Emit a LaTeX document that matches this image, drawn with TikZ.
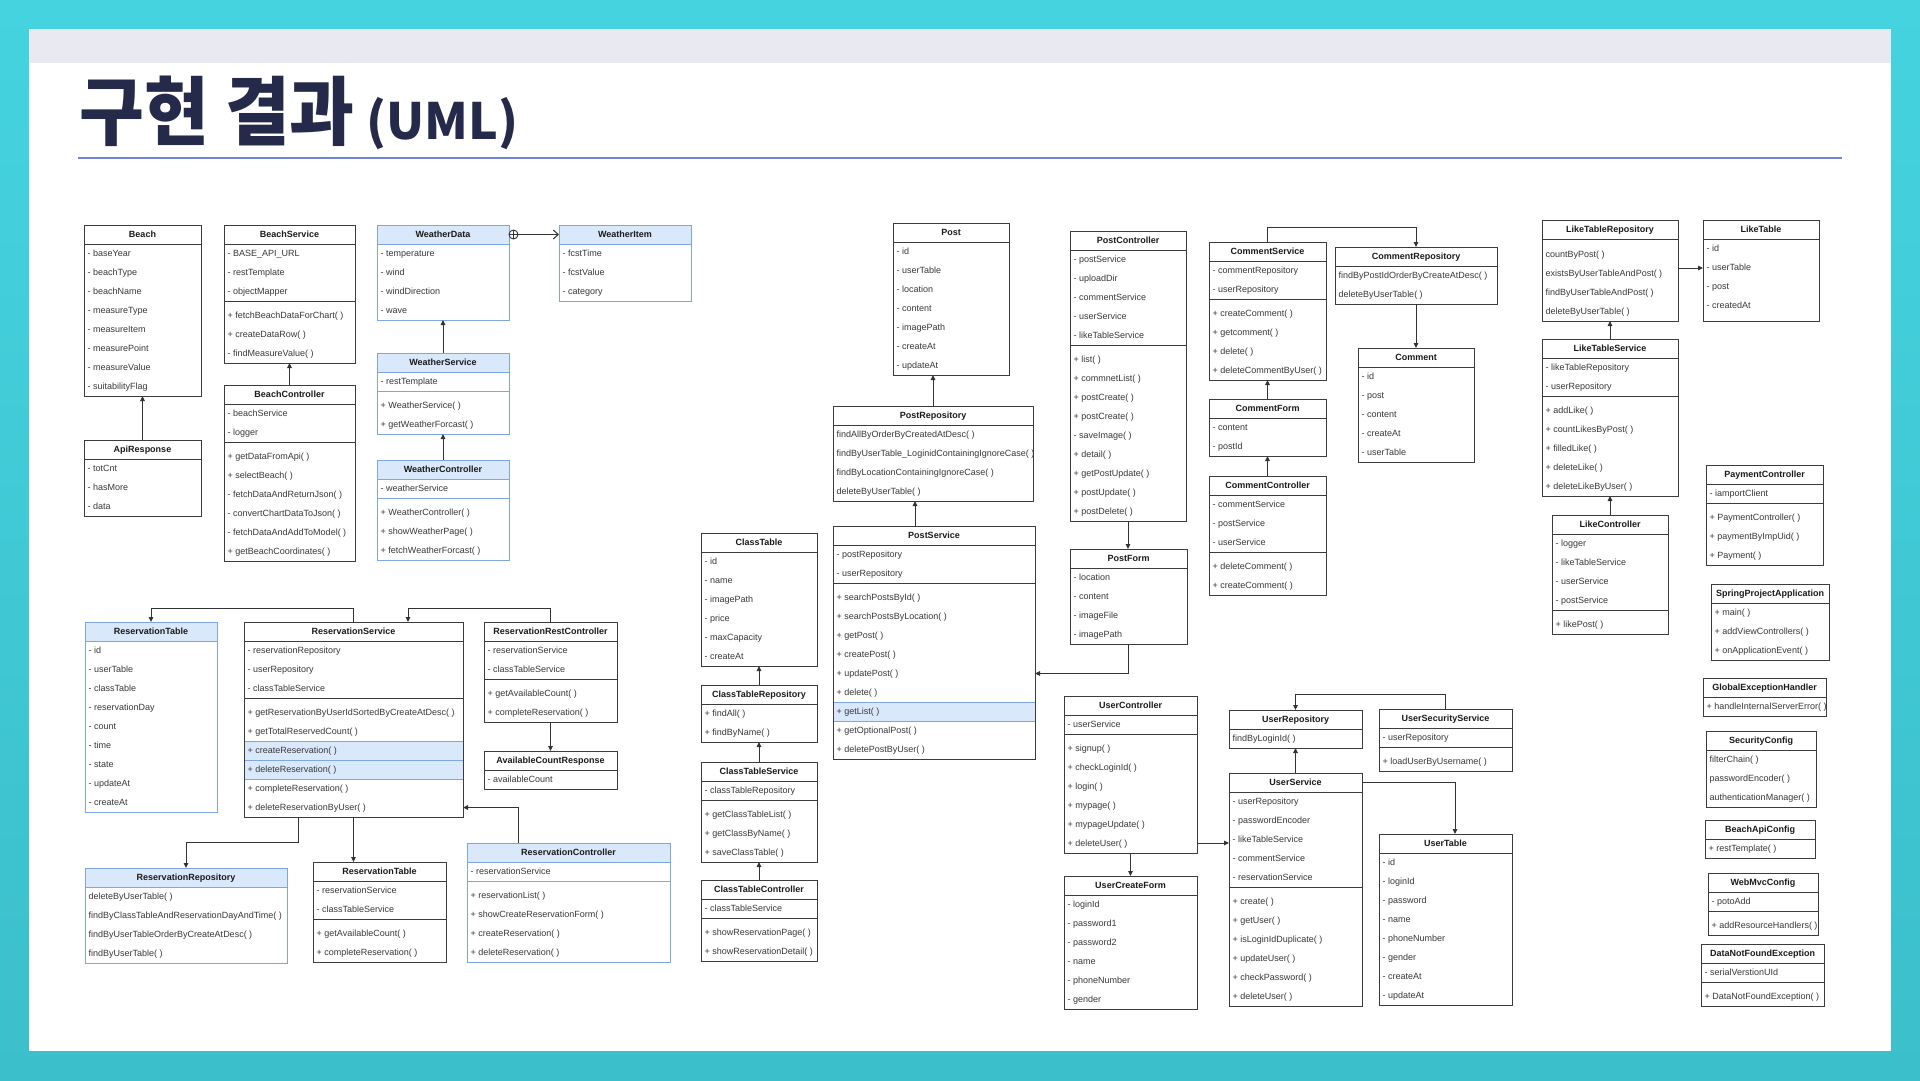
\documentclass[tikz,border=0pt]{standalone}
\usepackage{fontspec}
\usepackage{graphicx}
\setmainfont{Liberation Sans}
\newfontfamily\krfont{Noto Sans CJK KR}
\usetikzlibrary{arrows.meta,calc}
\definecolor{bdcol}{HTML}{3C3C3C}
\definecolor{bluebd}{HTML}{7EA6E0}
\definecolor{bluefill}{HTML}{DAE8FC}
\definecolor{rowcol}{HTML}{383838}
\definecolor{titcol}{HTML}{1A1A1A}
\definecolor{conncol}{HTML}{333333}
\definecolor{navy}{HTML}{252A4A}
\definecolor{rulecol}{HTML}{6F84D6}
\definecolor{bandcol}{HTML}{E8E9F1}
\definecolor{bgtop}{HTML}{45D3E0}
\definecolor{bgbot}{HTML}{3BBFCB}

\def\umltopgap{0}
\def\umlbotgap{0}
\def\uBlueFlag{b}

\newcommand{\umlclass}[8][]{%
\begingroup
\def\uArg{#1}%
\ifx\uArg\uBlueFlag\def\uBC{bluebd}\def\uHF{bluefill}\else\def\uBC{bdcol}\def\uHF{white}\fi
\pgfmathsetmacro\uX{#3}%
\pgfmathsetmacro\uY{#4}%
\pgfmathsetmacro\uW{#5}%
\pgfmathsetmacro\uT{\uX+3.5}%
\pgfmathsetmacro\uTmp{\uY+19+\umltopgap}\global\let\uGcur\uTmp
\def\uHasA{0}\def\uHasM{0}%
\if\relax\detokenize{#7}\relax\else\def\uHasA{1}\fi
\if\relax\detokenize{#8}\relax\else\def\uHasM{1}\fi
\fill[\uHF] (\uX,\uY) rectangle (\uX+\uW,\uY+19);
\ifnum\uHasA=1
 \foreach \uItem [count=\uI] in {#7}{%
   \node[umlrow] (#2-a\uI) at (\uT,\uGcur+12.7) {\uItem};
   \pgfmathsetmacro\uTmp{\uGcur+19}\global\let\uGcur\uTmp
 }%
\fi
\global\let\uSep\uGcur
\ifnum\uHasA=1 \ifnum\uHasM=1
 \pgfmathsetmacro\uTmp{\uGcur+5}\global\let\uGcur\uTmp
\fi\fi
\ifnum\uHasM=1
 \foreach \uItem [count=\uI] in {#8}{%
   \node[umlrow] (#2-m\uI) at (\uT,\uGcur+12.7) {\uItem};
   \pgfmathsetmacro\uTmp{\uGcur+19}\global\let\uGcur\uTmp
 }%
\fi
\pgfmathsetmacro\uH{\uGcur+\umlbotgap-\uY}%
\node[draw=\uBC, line width=0.9pt, minimum width=\uW pt, minimum height=\uH pt, inner sep=0pt, outer sep=0pt, anchor=north west] (#2) at (\uX,\uY) {};
\draw[\uBC, line width=0.9pt] (\uX,\uY+19) -- (\uX+\uW,\uY+19);
\ifnum\uHasA=1 \ifnum\uHasM=1
 \draw[\uBC, line width=0.9pt] (\uX,\uSep) -- (\uX+\uW,\uSep);
\fi\fi
\node[umltitle] (#2-t) at (\uX+0.5*\uW,\uY+12.7) {#6};
\endgroup
}

\newcommand{\umlhl}[4]{%
\fill[bluefill] (#1,#2) rectangle (#1+#3,#2+#4);
\draw[bluebd, line width=0.9pt] (#1,#2) -- (#1+#3,#2);
\draw[bluebd, line width=0.9pt] (#1,#2+#4) -- (#1+#3,#2+#4);
}

\tikzset{
 umlrow/.style={anchor=base west, inner sep=0pt, text=rowcol, font=\fontsize{9}{10}\selectfont},
 umltitle/.style={anchor=base, inner sep=0pt, text=titcol, font=\fontsize{9}{10}\selectfont\bfseries},
 conn/.style={draw=conncol, line width=1pt, -{Triangle[length=5pt,width=4.5pt]}},
}

\begin{document}
\begin{tikzpicture}[x=1pt,y=-1pt]
\useasboundingbox (0,0) rectangle (1920,1080);
% background
\shade[top color=bgtop, bottom color=bgbot] (0,0) rectangle (1920,1080);
\fill[white] (29,29) rectangle (1891,1051);
\fill[bandcol] (29,29) rectangle (1891,63);
% title
\node[anchor=base west, inner sep=0pt, text=navy] (title) at (79,139.5)
 {\krfont\bfseries\fontsize{75}{80}\selectfont\scalebox{0.94}[1]{구현 결과}\hspace{12pt}\fontsize{50}{55}\selectfont(UML)};
\draw[rulecol, line width=2.5pt] (78,158) -- (1842,158);

% ===== Beach / Weather =====
\umlclass{beach}{84}{225}{117}{Beach}{- baseYear, - beachType, - beachName, - measureType, - measureItem, - measurePoint, - measureValue, - suitabilityFlag}{}
\umlclass{apiresp}{84}{440}{117}{ApiResponse}{- totCnt, - hasMore, - data}{}
\umlclass{bsvc}{224}{225}{131}{BeachService}{- BASE\_API\_URL, - restTemplate, - objectMapper}{+ fetchBeachDataForChart( ), + createDataRow( ), - findMeasureValue( )}
\umlclass{bctl}{224}{385}{131}{BeachController}{- beachService, - logger}{+ getDataFromApi( ), + selectBeach( ), - fetchDataAndReturnJson( ), - convertChartDataToJson( ), - fetchDataAndAddToModel( ), + getBeachCoordinates( )}
\umlclass[b]{wdata}{377}{225}{132}{WeatherData}{- temperature, - wind, - windDirection, - wave}{}
\umlclass[b]{witem}{559}{225}{132}{WeatherItem}{- fcstTime, - fcstValue, - category}{}
\umlclass[b]{wsvc}{377}{353}{132}{WeatherService}{- restTemplate}{+ WeatherService( ), + getWeatherForcast( )}
\umlclass[b]{wctl}{377}{460}{132}{WeatherController}{- weatherService}{+ WeatherController( ), + showWeatherPage( ), + fetchWeatherForcast( )}

% ===== Reservation =====
\umlclass[b]{rtab}{85}{622}{132}{ReservationTable}{- id, - userTable, - classTable, - reservationDay, - count, - time, - state, - updateAt, - createAt}{}
\umlhl{244}{741}{219}{38}
\draw[bluebd, line width=0.9pt] (244,760) -- (463,760);
\umlclass{rsvc}{244}{622}{219}{ReservationService}{- reservationRepository, - userRepository, - classTableService}{+ getReservationByUserIdSortedByCreateAtDesc( ), + getTotalReservedCount( ), + createReservation( ), + deleteReservation( ), + completeReservation( ), + deleteReservationByUser( )}
\umlclass{rrc}{484}{622}{133}{ReservationRestController}{- reservationService, - classTableService}{+ getAvailableCount( ), + completeReservation( )}
\umlclass{acr}{484}{751}{133}{AvailableCountResponse}{- availableCount}{}
\umlclass[b]{rrepo}{85}{868}{202}{ReservationRepository}{}{deleteByUserTable( ), findByClassTableAndReservationDayAndTime( ), findByUserTableOrderByCreateAtDesc( ), findByUserTable( )}
\umlclass{rtab2}{313}{862}{133}{ReservationTable}{- reservationService, - classTableService}{+ getAvailableCount( ), + completeReservation( )}
\umlclass[b]{rctl}{467}{843}{203}{ReservationController}{- reservationService}{+ reservationList( ), + showCreateReservationForm( ), + createReservation( ), + deleteReservation( )}

% ===== Post / ClassTable =====
\umlclass{post}{893}{223}{116}{Post}{- id, - userTable, - location, - content, - imagePath, - createAt, - updateAt}{}
\umlclass{prepo}{833}{406}{200}{PostRepository}{}{findAllByOrderByCreatedAtDesc( ), findByUserTable\_LoginidContainingIgnoreCase( ), findByLocationContainingIgnoreCase( ), deleteByUserTable( )}
\umlhl{833}{702}{202}{19}
\umlclass{psvc}{833}{526}{202}{PostService}{- postRepository, - userRepository}{+ searchPostsById( ), + searchPostsByLocation( ), + getPost( ), + createPost( ), + updatePost( ), + delete( ), + getList( ), + getOptionalPost( ), + deletePostByUser( )}
\umlclass{ctab}{701}{533}{116}{ClassTable}{- id, - name, - imagePath, - price, - maxCapacity, - createAt}{}
\umlclass{ctrepo}{701}{685}{116}{ClassTableRepository}{}{+ findAll( ), + findByName( )}
\umlclass{ctsvc}{701}{762}{116}{ClassTableService}{- classTableRepository}{+ getClassTableList( ), + getClassByName( ), + saveClassTable( )}
\umlclass{ctctl}{701}{880}{116}{ClassTableController}{- classTableService}{+ showReservationPage( ), + showReservationDetail( )}
\umlclass{pctl}{1070}{231}{116}{PostController}{- postService, - uploadDir, - commentService, - userService, - likeTableService}{+ list( ), + commnetList( ), + postCreate( ), + postCreate( ), - saveImage( ), + detail( ), + getPostUpdate( ), + postUpdate( ), + postDelete( )}
\umlclass{pform}{1070}{549}{117}{PostForm}{- location, - content, - imageFile, - imagePath}{}

% ===== Comment =====
\umlclass{csvc}{1209}{242}{117}{CommentService}{- commentRepository, - userRepository}{+ createComment( ), + getcomment( ), + delete( ), + deleteCommentByUser( )}
\umlclass{crepo}{1335}{247}{162}{CommentRepository}{}{findByPostIdOrderByCreateAtDesc( ), deleteByUserTable( )}
\umlclass{comment}{1358}{348}{116}{Comment}{- id, - post, - content, - createAt, - userTable}{}
\umlclass{cform}{1209}{399}{117}{CommentForm}{- content, - postId}{}
\umlclass{cctl}{1209}{476}{117}{CommentController}{- commentService, - postService, - userService}{+ deleteComment( ), + createComment( )}

% ===== User =====
\umlclass{uctl}{1064}{696}{133}{UserController}{- userService}{+ signup( ), + checkLoginId( ), + login( ), + mypage( ), + mypageUpdate( ), + deleteUser( )}
\umlclass{ucform}{1064}{876}{133}{UserCreateForm}{- loginId, - password1, - password2, - name, - phoneNumber, - gender}{}
\umlclass{urepo}{1229}{710}{133}{UserRepository}{}{findByLoginId( )}
\umlclass{usvc}{1229}{773}{133}{UserService}{- userRepository, - passwordEncoder, - likeTableService, - commentService, - reservationService}{+ create( ), + getUser( ), + isLoginIdDuplicate( ), + updateUser( ), + checkPassword( ), + deleteUser( )}
\umlclass{ussvc}{1379}{709}{133}{UserSecurityService}{- userRepository}{+ loadUserByUsername( )}
\umlclass{utab}{1379}{834}{133}{UserTable}{- id, - loginId, - password, - name, - phoneNumber, - gender, - createAt, - updateAt}{}

% ===== Like / misc =====
\def\umltopgap{6}
\umlclass{ltrepo}{1542}{220}{136}{LikeTableRepository}{}{countByPost( ), existsByUserTableAndPost( ), findByUserTableAndPost( ), deleteByUserTable( )}
\def\umltopgap{0}
\def\umlbotgap{6}
\umlclass{ltab}{1703}{220}{116}{LikeTable}{- id, - userTable, - post, - createdAt}{}
\def\umlbotgap{0}
\umlclass{ltsvc}{1542}{339}{136}{LikeTableService}{- likeTableRepository, - userRepository}{+ addLike( ), + countLikesByPost( ), + filledLike( ), + deleteLike( ), + deleteLikeByUser( )}
\umlclass{lctl}{1552}{515}{116}{LikeController}{- logger, - likeTableService, - userService, - postService}{+ likePost( )}
\umlclass{payctl}{1706}{465}{117}{PaymentController}{- iamportClient}{+ PaymentController( ), + paymentByImpUid( ), + Payment( )}
\umlclass{spa}{1711}{584}{118}{SpringProjectApplication}{}{+ main( ), + addViewControllers( ), + onApplicationEvent( )}
\umlclass{geh}{1703}{678}{123}{GlobalExceptionHandler}{}{+ handleInternalServerError( )}
\umlclass{seccfg}{1706}{731}{110}{SecurityConfig}{}{filterChain( ), passwordEncoder( ), authenticationManager( )}
\umlclass{bacfg}{1705}{820}{110}{BeachApiConfig}{}{+ restTemplate( )}
\umlclass{wmvc}{1708}{873}{110}{WebMvcConfig}{- potoAdd}{+ addResourceHandlers( )}
\umlclass{dnfe}{1701}{944}{123}{DataNotFoundException}{- serialVerstionUId}{+ DataNotFoundException( )}

% ===== connectors =====
\draw[conn] (apiresp.north) -- (apiresp.north |- beach.south);
\draw[conn] (bctl.north) -- (bctl.north |- bsvc.south);
\coordinate (cplus) at ([xshift=4.5pt,yshift=-9.5pt]wdata.north east);
\coordinate (cplusr) at ([xshift=4.5pt]cplus);
\draw[conncol, line width=1pt, -{Straight Barb[length=5pt,width=9pt]}] (cplusr) -- (cplusr -| witem.west);
\draw[conncol, line width=0.9pt] (cplus) circle (4.5pt);
\draw[conncol, line width=0.9pt] ([xshift=-4.5pt]cplus) -- ([xshift=4.5pt]cplus);
\draw[conncol, line width=0.9pt] ([yshift=-4.5pt]cplus) -- ([yshift=4.5pt]cplus);
\draw[conn] (wsvc.north) -- (wsvc.north |- wdata.south);
\draw[conn] (wctl.north) -- (wctl.north |- wsvc.south);

\coordinate (rrcin) at ([xshift=164pt]rsvc.north west);
\coordinate (rctlout) at ([xshift=51pt]rctl.north west);
\coordinate (rsvcin) at ([yshift=-185.5pt]rsvc.north east);
\coordinate (rsvcout) at ([xshift=54pt]rsvc.south west);
\draw[conn] (rsvc.north) -- ++(0,-14) -| (rtab.north);
\draw[conn] (rrc.north) -- ++(0,-14) -| (rrcin);
\draw[conn] (rrc.south) -- (rrc.south |- acr.north);
\draw[conn] (rctlout) |- (rsvcin);
\draw[conn] (rsvcout) -- ++(0,25) -| (rrepo.north);
\draw[conn] (rsvc.south) -- (rsvc.south |- rtab2.north);

\coordinate (psvcout) at ([xshift=82pt]psvc.north west);
\coordinate (psvcin) at ([yshift=-147.5pt]psvc.north east);
\draw[conn] (prepo.north) -- (prepo.north |- post.south);
\draw[conn] (psvcout) -- (psvcout |- prepo.south);
\draw[conn] (ctrepo.north) -- (ctrepo.north |- ctab.south);
\draw[conn] (ctsvc.north) -- (ctsvc.north |- ctrepo.south);
\draw[conn] (ctctl.north) -- (ctctl.north |- ctsvc.south);
\draw[conn] (pctl.south) -- (pctl.south |- pform.north);
\draw[conn] (pform.south) |- (psvcin);

\draw[conn] (csvc.north) -- ++(0,-15) -| (crepo.north);
\draw[conn] (crepo.south) -- (crepo.south |- comment.north);
\draw[conn] (cform.north) -- (cform.north |- csvc.south);
\draw[conn] (cctl.north) -- (cctl.north |- cform.south);

\coordinate (uctlout) at ([yshift=-147pt]uctl.north east);
\coordinate (usvcout) at ([yshift=-9.5pt]usvc.north east);
\coordinate (utabin) at ([xshift=76pt]utab.north west);
\draw[conn] (uctl.south) -- (uctl.south |- ucform.north);
\draw[conn] (uctlout) -- (uctlout -| usvc.west);
\draw[conn] (usvc.north) -- (usvc.north |- urepo.south);
\draw[conn] (ussvc.north) -- ++(0,-15) -| (urepo.north);
\draw[conn] (usvcout) -| (utabin);

\coordinate (ltrepoout) at ([yshift=-48pt]ltrepo.north east);
\draw[conn] (ltrepoout) -- (ltrepoout -| ltab.west);
\draw[conn] (ltsvc.north) -- (ltsvc.north |- ltrepo.south);
\draw[conn] (lctl.north) -- (lctl.north |- ltsvc.south);
\end{tikzpicture}
\end{document}
